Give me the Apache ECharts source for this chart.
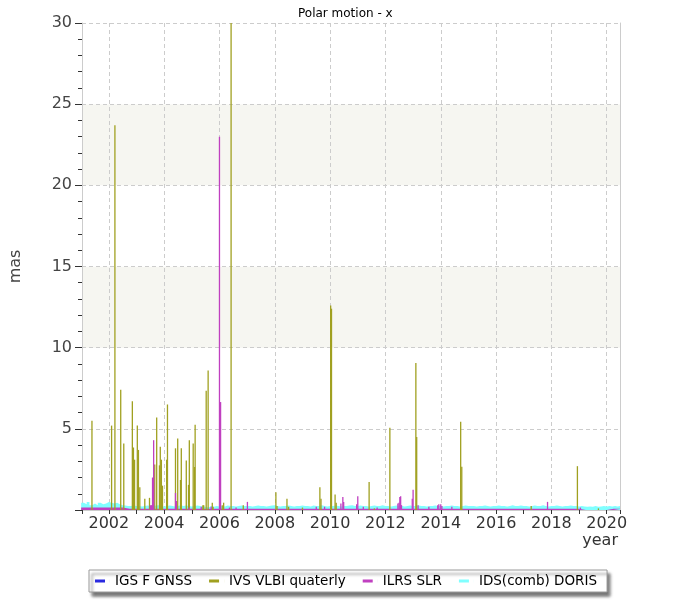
<!DOCTYPE html>
<html><head><meta charset="utf-8">
<script src="https://cdn.jsdelivr.net/npm/echarts@6/dist/echarts.min.js"></script>
<style>html,body{margin:0;padding:0;background:#fff}#c{width:700px;height:600px}</style>
</head><body><div id="c"></div>
<script>
// ---- data (years, mas) ----
const titleText = 'Polar motion - x';
const seriesNames = ['IGS F GNSS', 'IVS VLBI quaterly', 'ILRS SLR', 'IDS(comb) DORIS'];

// IGS F GNSS: yearly samples from 2001.0, step 1 yr
const igsStart = 2001.0, igsStep = 1.0;
const igsValues = [0.04,0.04,0.04,0.04,0.04,0.04,0.04,0.04,0.04,0.04,0.04,0.04,0.04,0.04,0.04,0.04,0.04,0.04,0.04,0.04];

// IVS VLBI quaterly spikes [year, mas]
const ivsSpikes = [
  [2001.39,5.5],[2002.10,5.2],[2002.22,23.7],[2002.43,7.4],[2002.54,4.1],[2002.85,6.7],[2002.89,3.85],[2002.93,3.1],
  [2003.03,5.2],[2003.07,3.7],[2003.12,1.4],[2003.30,0.7],[2003.47,0.75],[2003.66,2.8],[2003.73,5.7],[2003.83,2.75],
  [2003.86,3.9],[2003.90,3.1],[2003.94,1.5],[2004.09,3.1],[2004.12,6.5],[2004.41,3.8],[2004.49,4.4],[2004.59,1.85],
  [2004.62,3.8],[2004.80,3.05],[2004.88,1.55],[2004.91,4.3],[2005.05,4.1],[2005.10,2.65],[2005.12,5.25],[2005.40,0.3],
  [2005.43,0.3],[2005.52,7.35],[2005.59,8.6],[2005.74,0.45],[2005.77,0.2],[2006.10,0.3],[2006.15,0.45],[2006.42,30],
  [2006.86,0.3],[2008.04,1.1],[2008.08,0.25],[2008.44,0.7],[2008.50,0.2],[2009.00,0.15],[2009.63,1.4],[2009.67,0.7],
  [2010.02,12.6],[2010.05,12.4],[2010.18,0.95],[2010.22,0.45],[2011.41,1.73],[2011.60,0.1],[2012.16,5.06],
  [2013.10,9.06],[2013.13,4.5],[2014.72,5.43],[2014.76,2.66],[2017.27,0.25],[2018.94,2.7],[2019.70,0.1]
];

// ILRS SLR: baseline every 0.25 yr from 2001.0, plus spikes
const slrStart = 2001.0, slrStep = 0.25;
const slrBase = [
  0.15,0.15,0.15,0.15,0.15,0.15,
  0.07,0.07,0.07,0.07,0.07,0.07,0.07,0.07,0.07,0.07,0.07,0.07,0.07,0.07,0.07,0.07,0.07,0.07,0.07,0.07,0.07,0.07,
  0.07,0.07,0.07,0.07,0.07,0.07,0.07,0.07,0.07,0.07,0.07,0.07,0.07,0.07,0.07,0.07,0.07,0.07,0.07,0.07,0.07,0.07,
  0.07,0.07,0.07,0.07,0.07,0.07,0.07,0.07,0.07,0.07,0.07,0.07,0.07,0.07,0.07,0.07,0.07,0.07,0.07,0.07,0.07,0.07,
  0,0,0,0,
  0.07,0.07,0.07
];
const slrSpikes = [
  [2003.50,0.3],[2003.54,0.3],[2003.58,2.0],[2003.62,4.3],[2004.41,1.05],[2004.44,0.55],[2004.90,0.15],[2005.34,0.2],
  [2005.70,0.2],[2006.00,23.0],[2006.04,6.65],[2006.36,0.15],[2006.60,0.15],[2007.01,0.5],[2009.50,0.2],[2009.80,0.2],
  [2010.39,0.4],[2010.46,0.8],[2010.49,0.5],[2010.96,0.35],[2011.00,0.85],[2011.20,0.2],[2011.70,0.15],
  [2012.45,0.4],[2012.49,0.45],[2012.52,0.8],[2012.55,0.85],[2012.58,0.3],[2012.97,0.7],[2013.00,1.25],[2013.18,0.3],
  [2013.57,0.2],[2013.89,0.3],[2013.93,0.35],[2014.00,0.35],[2014.04,0.25],[2014.40,0.2],[2017.86,0.5],[2019.05,0.15]
];

// IDS(comb) DORIS: every 0.1 yr from 2001.0
const idsStart = 2001.0, idsStep = 0.1;
const idsValues = [
  0.45,0.35,0.5,0.3,0.4,0.3,0.45,0.35,0.4,0.5,
  0.45,0.4,0.45,0.35,0.3,0.28,0.25,0.25,0.28,0.25,
  0.25,0.22,0.25,0.28,0.25,0.22,0.28,0.3,0.25,0.22,
  0.25,0.28,0.25,0.22,0.25,0.3,0.25,0.28,0.25,0.22,
  0.25,0.28,0.25,0.22,0.2,0.15,0.25,0.2,0.25,0.22,
  0.25,0.22,0.28,0.25,0.25,0.22,0.25,0.28,0.25,0.25,
  0.25,0.22,0.25,0.28,0.25,0.25,0.22,0.25,0.28,0.3,
  0.25,0.22,0.25,0.25,0.28,0.25,0.22,0.25,0.25,0.28,
  0.25,0.25,0.22,0.28,0.25,0.25,0.3,0.25,0.22,0.25,
  0.25,0.28,0.25,0.22,0.25,0.25,0.28,0.3,0.25,0.25,
  0.28,0.25,0.25,0.22,0.25,0.28,0.25,0.25,0.3,0.25,
  0.25,0.22,0.25,0.28,0.25,0.25,0.22,0.25,0.28,0.25,
  0.25,0.28,0.25,0.25,0.22,0.25,0.25,0.28,0.25,0.25,
  0.22,0.25,0.25,0.28,0.25,0.25,0.22,0.25,0.28,0.25,
  0.25,0.25,0.22,0.25,0.25,0.28,0.25,0.22,0.25,0.25,
  0.28,0.25,0.25,0.22,0.25,0.3,0.25,0.25,0.28,0.25,
  0.25,0.22,0.25,0.28,0.25,0.25,0.3,0.25,0.22,0.25,
  0.25,0.28,0.25,0.22,0.25,0.25,0.28,0.25,0.25,0.22,
  0.25,0.22,0.2,0.22,0.2,0.25,0.2,0.22,0.25,0.22,
  0.25,0.22,0.25,0.22,0.25,0.25
];

const yMin = 0, yMax = 30, yInterval = 5;
const xMin = 2001.03, xMax = 2020.48;

// ---- build ----
function seq(start, step, vals) { return vals.map((v, i) => [+(start + i * step).toFixed(3), v]); }
const colors = { igs: '#2a2ae0', ivs: '#a0a020', slr: '#c040c0', ids: '#80ffff' };
const font = 'DejaVu Sans';

function areaSeries(name, color, data) {
  return { name, type: 'line', step: 'end', data, symbol: 'none', showSymbol: false,
    lineStyle: { width: 0 }, areaStyle: { color, opacity: 1 }, itemStyle: { color }, clip: true, z: 2 };
}
function barSeries(name, color, data) {
  return { name, type: 'bar', data, barWidth: 1.3, barGap: '-100%', itemStyle: { color }, z: 2 };
}

const chart = echarts.init(document.getElementById('c'), null, { renderer: 'canvas' });
chart.setOption({
  animation: false,
  backgroundColor: '#fff',
  title: { text: titleText, left: 293, top: 3, textStyle: { fontFamily: font, fontSize: 12, fontWeight: 'normal', color: '#000' } },
  grid: { left: 80.5, right: 80, top: 23, bottom: 90 },
  legend: {
    data: seriesNames, left: 89, top: 570, orient: 'horizontal',
    padding: [4, 10, 4, 6], itemGap: 17, itemWidth: 15, itemHeight: 3,
    icon: 'path://M0,0h10v3h-10z M14.95,0h0.05v3h-0.05z',
    backgroundColor: '#fff', borderColor: '#999', borderWidth: 1,
    shadowColor: 'rgba(0,0,0,0.55)', shadowBlur: 3, shadowOffsetX: 3, shadowOffsetY: 4,
    textStyle: { fontFamily: font, fontSize: 13.5, color: '#000' }
  },
  xAxis: {
    type: 'value', min: xMin, max: xMax, splitNumber: 10,
    name: 'year', nameLocation: 'end', nameGap: 0,
    nameTextStyle: { fontFamily: font, fontSize: 16, color: '#333', align: 'right', verticalAlign: 'top', padding: [23, 2, 0, 0] },
    axisLine: { show: true, lineStyle: { color: '#ccc' } },
    axisTick: { show: true, length: 4, lineStyle: { color: '#333' } },
    minorTick: { show: true, splitNumber: 2, length: 4, lineStyle: { color: '#333' } },
    axisLabel: { fontFamily: font, fontSize: 16, color: '#333', margin: 6, showMinLabel: false, showMaxLabel: false,
      formatter: v => String(Math.round(v)) },
    splitLine: { show: true, lineStyle: { color: '#ccc', type: [4, 3] } }
  },
  yAxis: [{
    type: 'value', min: yMin, max: yMax, interval: yInterval,
    name: 'mas', nameLocation: 'middle', nameGap: 58, nameRotate: 90,
    nameTextStyle: { fontFamily: font, fontSize: 16, color: '#444' },
    axisLine: { show: true, lineStyle: { color: '#ccc' } },
    axisTick: { show: true, length: 7, lineStyle: { color: '#333' } },
    minorTick: { show: true, splitNumber: 5, length: 4, lineStyle: { color: '#333' } },
    axisLabel: { fontFamily: font, fontSize: 16, color: '#444', margin: 10, showMinLabel: false },
    splitLine: { show: true, lineStyle: { color: '#ccc', type: [4, 3] } },
    splitArea: { show: true, areaStyle: { color: ['#ffffff', '#ffffff', '#f6f6f1', '#ffffff', '#f6f6f1', '#ffffff'] } }
  }, {
    type: 'value', min: yMin, max: yMax, interval: yInterval, position: 'right',
    axisLine: { show: true, lineStyle: { color: '#ccc' } },
    axisTick: { show: false }, axisLabel: { show: false }, splitLine: { show: false }
  }],
  series: [
    areaSeries(seriesNames[0], colors.igs, seq(igsStart, igsStep, igsValues)),
    barSeries(seriesNames[1], colors.ivs, ivsSpikes),
    areaSeries(seriesNames[3], colors.ids, seq(idsStart, idsStep, idsValues)),
    areaSeries(seriesNames[2], colors.slr, seq(slrStart, slrStep, slrBase)),
    barSeries(seriesNames[2], colors.slr, slrSpikes)
  ]
});
</script></body></html>
